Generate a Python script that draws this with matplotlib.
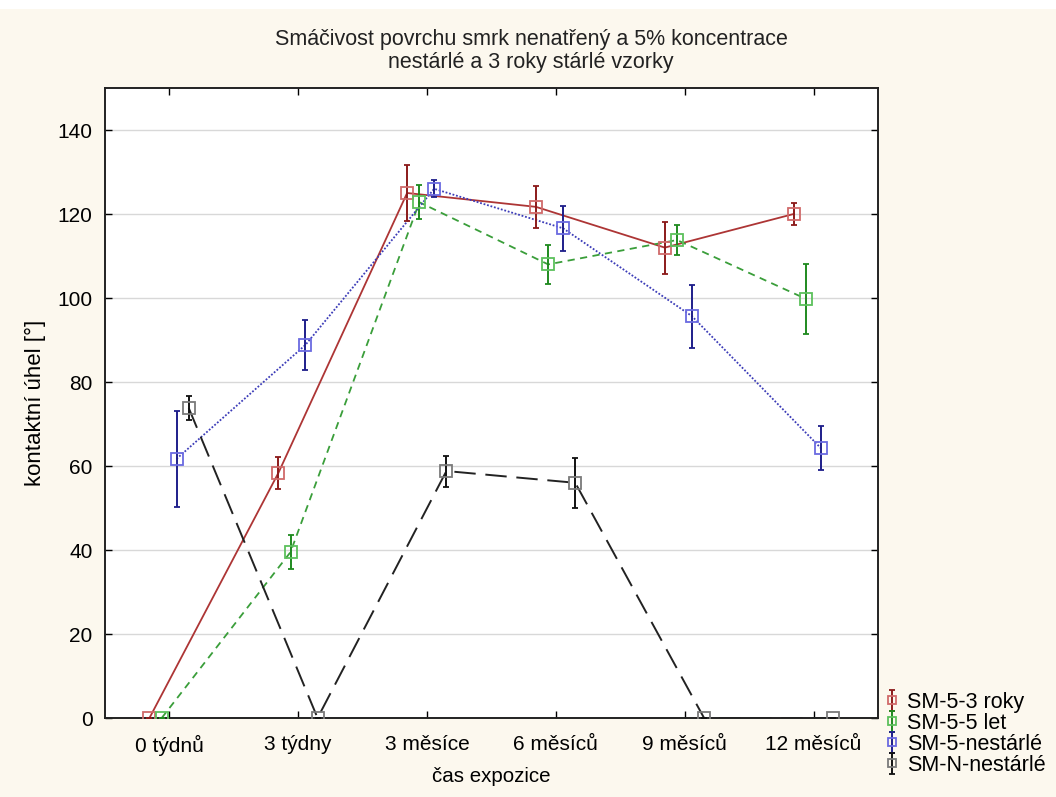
import numpy as np
import matplotlib
matplotlib.use('Agg')
import matplotlib.pyplot as plt
from matplotlib.patches import Rectangle

plt.rcParams['font.family'] = ['Liberation Sans', 'DejaVu Sans']

# data
categories = ['0 týdnů', '3 týdny', '3 měsíce', '6 měsíců', '9 měsíců', '12 měsíců']
series_names = ['SM-5-3 roky', 'SM-5-5 let', 'SM-5-nestárlé', 'SM-N-nestárlé']

sm53_mean = [0, 58.3, 125.0, 121.7, 112.0, 120.0]
sm53_err = [0, 3.8, 6.7, 5.0, 6.2, 2.6]
sm55_mean = [0, 39.5, 122.8, 108.0, 113.8, 99.8]
sm55_err = [0, 4.0, 4.0, 4.7, 3.5, 8.4]
sm5n_mean = [61.7, 88.8, 126.0, 116.6, 95.7, 64.3]
sm5n_err = [11.5, 6.0, 2.0, 5.3, 7.5, 5.2]
smnn_mean = [73.8, 0, 58.8, 56.0, 0, 0]
smnn_err = [2.8, 0, 3.7, 6.0, 0, 0]

means = [sm53_mean, sm55_mean, sm5n_mean, smnn_mean]
errs = [sm53_err, sm55_err, sm5n_err, smnn_err]

# styling per series
offsets = [-0.155, -0.06, 0.055, 0.15]
line_colors = ['#ad3535', '#3a9e3a', '#3c3cb8', '#222222']
err_colors = ['#8b1a1a', '#1f8a1f', '#1e1e8a', '#111111']
marker_edges = ['#d06a6a', '#5cc05c', '#6a6ae0', '#7a7a7a']
line_styles = ['-', (0, (4, 3)), (0, (1, 1)), (0, (11, 5))]
line_widths = [1.3, 1.3, 1.3, 1.4]

bg = '#fcf8ee'

fig = plt.figure(figsize=(10.56, 7.97), dpi=100, facecolor=bg)
fig.patches.append(Rectangle((0, 1 - 9 / 797), 1, 9 / 797, transform=fig.transFigure,
                             facecolor='white', edgecolor='none', zorder=0))
ax = fig.add_axes([105 / 1056, 1 - 718 / 797, (878 - 105) / 1056, (718 - 88) / 797])
ax.set_facecolor('white')

x = np.arange(len(categories))
for i in range(4):
    xs = x + offsets[i]
    ax.plot(xs, means[i], color=line_colors[i], ls=line_styles[i], lw=line_widths[i], zorder=3)
    ax.errorbar(xs, means[i], yerr=errs[i], fmt='s', ls='none', color=err_colors[i],
                ecolor=err_colors[i], elinewidth=1.4, capsize=2.5, capthick=1.2,
                markersize=8, markerfacecolor='none', markeredgecolor=marker_edges[i],
                markeredgewidth=1.3, label=series_names[i], zorder=4)

ax.set_xlim(-0.5, 5.5)
ax.set_ylim(0, 150)
ax.set_xticks(x)
ax.set_xticklabels(categories)
ax.set_yticks(np.arange(0, 141, 20))
ax.grid(axis='y', color='#d8d8d8', lw=1.0)
ax.set_axisbelow(True)
ax.tick_params(direction='in', length=5, width=1, top=True, right=True, labelsize=15)
ax.tick_params(axis='x', pad=12)
ax.tick_params(axis='y', pad=9)
for s in ax.spines.values():
    s.set_linewidth(1.4)
    s.set_color('#222222')

ax.set_ylabel('kontaktní úhel [°]', fontsize=16, labelpad=8)
ax.set_xlabel('čas expozice', fontsize=14.8, labelpad=8)

fig.text(531 / 1056, 1 - 51 / 797, 'Smáčivost povrchu smrk nenatřený a 5% koncentrace\nnestárlé a 3 roky stárlé vzorky',
         ha='center', va='center', fontsize=15.5, linespacing=1.18, color='#222222')

leg = fig.legend(loc='upper left', bbox_to_anchor=(883 / 1056, 1 - 692 / 797),
                 frameon=False, fontsize=15.5, handlelength=0.8, handletextpad=0.3,
                 labelspacing=0.0, borderpad=0, borderaxespad=0, markerscale=0.8)

fig.savefig('out.png', dpi=100, facecolor=bg)
